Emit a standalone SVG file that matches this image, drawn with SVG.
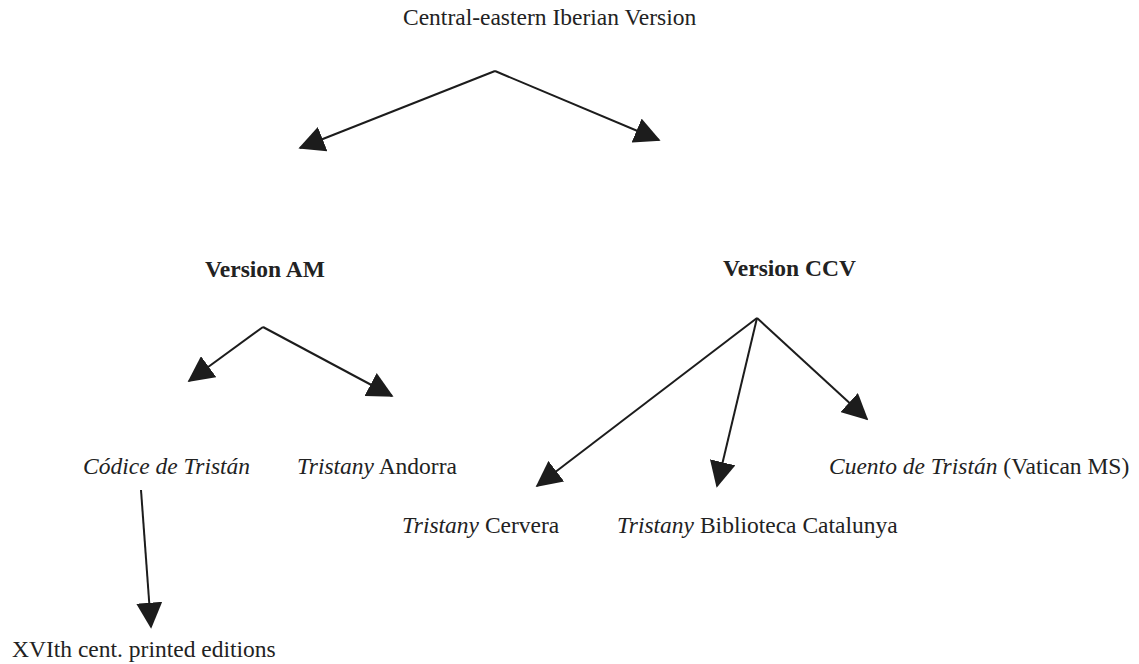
<svg xmlns="http://www.w3.org/2000/svg" width="1139" height="664" viewBox="0 0 1139 664">
  <style>
    .t { font-family: "Liberation Serif", "Times New Roman", serif; font-size: 23.5px; fill: #222; }
    .b { font-weight: bold; }
    .i { font-style: italic; }
    .c { stroke: #1c1c1c; stroke-width: 2; fill: none; marker-end: url(#ah); }
  </style>
  <defs>
    <marker id="ah" markerUnits="userSpaceOnUse" markerWidth="26" markerHeight="26" viewBox="0 0 23 23" refX="21.5" refY="11.5" orient="auto">
      <path d="M0,0 L23,11.5 L0,23 Z" fill="#1c1c1c"/>
    </marker>
  </defs>
  <rect width="1139" height="664" fill="#ffffff"/>
  <g id="connectors">
    <line class="c" x1="495" y1="71" x2="300" y2="148"/>
    <line class="c" x1="495" y1="71" x2="659" y2="140"/>
    <line class="c" x1="263" y1="327" x2="189" y2="381"/>
    <line class="c" x1="263" y1="327" x2="392" y2="396"/>
    <line class="c" x1="141" y1="490" x2="151" y2="627"/>
    <line class="c" x1="757" y1="318" x2="537" y2="486"/>
    <line class="c" x1="757" y1="318" x2="717" y2="486"/>
    <line class="c" x1="757" y1="318" x2="867" y2="419"/>
  </g>
  <g id="node-root"><text class="t" x="403" y="25">Central-eastern Iberian Version</text></g>
  <g id="node-am"><text class="t b" x="205" y="277">Version AM</text></g>
  <g id="node-ccv"><text class="t b" x="723" y="276">Version CCV</text></g>
  <g id="node-codice"><text class="t i" x="83" y="474">Códice de Tristán</text></g>
  <g id="node-andorra"><text class="t" x="297" y="474"><tspan class="i">Tristany</tspan> Andorra</text></g>
  <g id="node-cuento"><text class="t" x="829" y="474"><tspan class="i">Cuento de Tristán</tspan> (Vatican MS)</text></g>
  <g id="node-cervera"><text class="t" x="402" y="533"><tspan class="i">Tristany</tspan> Cervera</text></g>
  <g id="node-biblioteca"><text class="t" x="617" y="533"><tspan class="i">Tristany</tspan> Biblioteca Catalunya</text></g>
  <g id="node-editions"><text class="t" x="12" y="657">XVIth cent. printed editions</text></g>
</svg>
